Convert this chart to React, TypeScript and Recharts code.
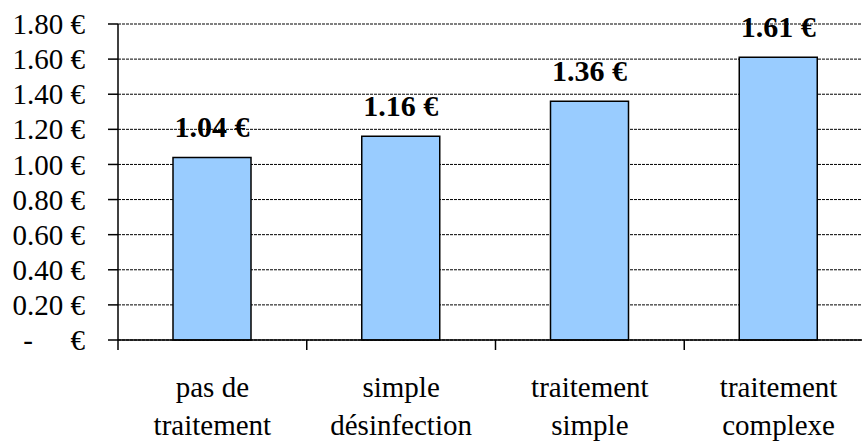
import { Bar, BarChart, CartesianGrid, LabelList, XAxis, YAxis } from "recharts";

const categories = [["pas de", "traitement"], ["simple", "désinfection"], ["traitement", "simple"], ["traitement", "complexe"]];
const costs = [1.04, 1.16, 1.36, 1.61];
const yTicks = [0, 0.2, 0.4, 0.6, 0.8, 1.0, 1.2, 1.4, 1.6, 1.8];

const data = categories.map((lines, i) => ({ name: lines.join(" "), lines, cost: costs[i] }));

const FONT = '"Liberation Serif", "Times New Roman", serif';
const textStyle = { fontFamily: FONT, fontSize: 29 };

function YTick(props: any) {
  const { x, y, payload } = props;
  const v = Number(payload.value);
  if (v === 0) {
    return (
      <g>
        <text x={x - 57} y={y} dy="0.35em" textAnchor="middle" style={textStyle} fill="#000">-</text>
        <text x={x} y={y} dy="0.35em" textAnchor="end" style={textStyle} fill="#000">€</text>
      </g>
    );
  }
  return (
    <text x={x} y={y} dy="0.35em" textAnchor="end" style={textStyle} fill="#000">
      {v.toFixed(2)} €
    </text>
  );
}

function XTick(props: any) {
  const { x, y, payload, index } = props;
  const half = payload.offset || 94.4;
  const row = data[index];
  const lines = row ? row.lines : [String(payload.value)];
  return (
    <g>
      <line x1={x - half} y1={y} x2={x - half} y2={y + 10} stroke="#000" strokeWidth={1.5} />
      <text x={x} y={y + 57} textAnchor="middle" style={textStyle} fill="#000">{lines[0]}</text>
      <text x={x} y={y + 95} textAnchor="middle" style={textStyle} fill="#000">{lines[1]}</text>
    </g>
  );
}

export default function App() {
  return (
    <div style={{ position: "absolute", left: 0, top: 0, width: 862, height: 443, overflow: "hidden", background: "#fff" }}>
      <BarChart width={900} height={443} data={data} margin={{ top: 24, right: 27, left: 0, bottom: 0 }}>
        <CartesianGrid vertical={false} stroke="#000" strokeDasharray="3 1" />
        <XAxis
          dataKey="name"
          height={103}
          interval={0}
          tickSize={0}
          tickMargin={0}
          tickLine={false}
          axisLine={{ stroke: "#000", strokeWidth: 1.5 }}
          tick={<XTick />}
        />
        <YAxis
          width={118}
          domain={[0, 1.8]}
          ticks={yTicks}
          interval={0}
          tickSize={10}
          tickMargin={23}
          tickLine={{ stroke: "#000", strokeWidth: 1.5 }}
          axisLine={{ stroke: "#000", strokeWidth: 1.5 }}
          tick={<YTick />}
        />
        <Bar dataKey="cost" fill="#99ccff" stroke="#000" strokeWidth={1.5} barSize={78} isAnimationActive={false}>
          <LabelList
            dataKey="cost"
            position="top"
            offset={20}
            formatter={(v: any) => `${Number(v).toFixed(2)} €`}
            style={{ fontFamily: FONT, fontSize: 30, fontWeight: "bold", fill: "#000" }}
          />
        </Bar>
      </BarChart>
    </div>
  );
}
